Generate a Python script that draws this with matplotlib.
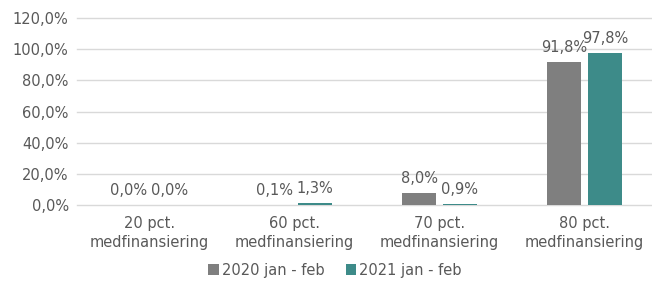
import numpy as np
import matplotlib
matplotlib.use("Agg")
import matplotlib.pyplot as plt

# ------------------------------------------------------------
# Data
# ------------------------------------------------------------
categories = ["20 pct.\nmedfinansiering", "60 pct.\nmedfinansiering",
              "70 pct.\nmedfinansiering", "80 pct.\nmedfinansiering"]
series_names = ["2020 jan - feb", "2021 jan - feb"]
values_2020 = [0.0, 0.1, 8.0, 91.8]
values_2021 = [0.0, 1.3, 0.9, 97.8]
yticks = [0, 20, 40, 60, 80, 100, 120]

COLORS = ["#7F7F7F", "#3D8B89"]
TEXT = "#595959"

plt.rcParams.update({
    "font.family": ["Liberation Sans Narrow", "DejaVu Sans"],
    "font.size": 10.5,
})


def fmt(v):
    return f"{v:.1f}".replace(".", ",") + "%"


fig = plt.figure(figsize=(6.52, 2.95), dpi=100)
ax = fig.add_axes([77 / 652, 90 / 295, 575 / 652, 187 / 295])

x = np.arange(len(categories))
width = 0.234
offset = 0.141

for vals, name, col, sgn in [(values_2020, series_names[0], COLORS[0], -1),
                             (values_2021, series_names[1], COLORS[1], 1)]:
    bars = ax.bar(x + sgn * offset, vals, width, color=col, label=name, zorder=3)
    for b, v in zip(bars, vals):
        ax.annotate(fmt(v), (b.get_x() + b.get_width() / 2, b.get_height()),
                    xytext=(0, 5), textcoords="offset points",
                    ha="center", va="bottom", color=TEXT, fontsize=10.5)

ax.set_ylim(0, 120)
ax.set_xlim(-0.5, 3.466)
ax.set_yticks(yticks)
ax.set_yticklabels([fmt(t) for t in yticks], color=TEXT)
ax.set_xticks(x)
ax.set_xticklabels(categories, color=TEXT, linespacing=1.3)
ax.tick_params(length=0, pad=6)
ax.tick_params(axis="x", pad=8)
ax.grid(axis="y", color="#D9D9D9", linewidth=1, zorder=0)
for gl in ax.get_ygridlines():
    gl.set_clip_on(False)
for s in ax.spines.values():
    s.set_visible(False)

leg = fig.legend(loc="center", bbox_to_anchor=(335 / 652, 1 - 270 / 295),
                 ncol=2, frameon=False, handlelength=0.7, handleheight=0.7,
                 handletextpad=0.2, columnspacing=1.5, fontsize=10.5)
for t in leg.get_texts():
    t.set_color(TEXT)

fig.savefig("out.png", dpi=100)
